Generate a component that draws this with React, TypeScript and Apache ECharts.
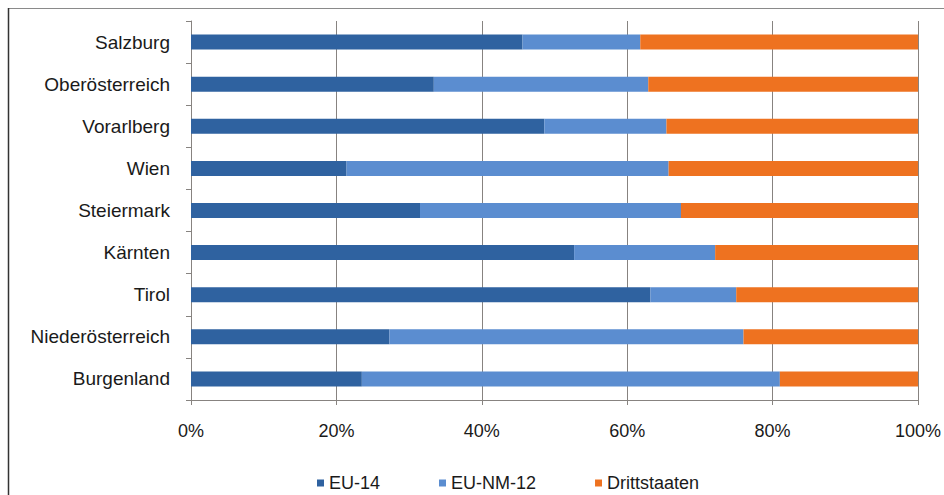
import React, { useEffect, useRef } from "react";
import * as echarts from "echarts";

const categories = [
  "Salzburg",
  "Oberösterreich",
  "Vorarlberg",
  "Wien",
  "Steiermark",
  "Kärnten",
  "Tirol",
  "Niederösterreich",
  "Burgenland",
];
const eu14 = [45.6, 33.4, 48.6, 21.4, 31.5, 52.7, 63.2, 27.3, 23.5];
const euNm12 = [16.2, 29.5, 16.8, 44.3, 35.9, 19.4, 11.8, 48.7, 57.5];
const drittstaaten = [38.2, 37.1, 34.6, 34.3, 32.6, 27.9, 25.0, 24.0, 19.0];
const xTicks = [0, 20, 40, 60, 80, 100];

const FONT = "'Liberation Sans', Arial, sans-serif";

export default function App() {
  const ref = useRef<HTMLDivElement>(null);
  useEffect(() => {
    if (!ref.current) return;
    const chart = echarts.init(ref.current, undefined, { renderer: "svg" });
    const cats = [...categories].reverse();
    const rev = (a: number[]) => [...a].reverse();
    const axisColor = "#878380";
    chart.setOption({
      animation: false,
      backgroundColor: "#ffffff",
      textStyle: { fontFamily: FONT },
      grid: { left: 191, right: 25, top: 21, bottom: 95 },
      legend: {
        left: 312,
        top: 469,
        itemWidth: 7,
        itemHeight: 7,
        itemGap: 59,
        icon: "rect",
        textStyle: { fontSize: 18, color: "#1a1a1a", fontFamily: FONT },
        data: ["EU-14", "EU-NM-12", "Drittstaaten"],
      },
      xAxis: {
        type: "value",
        min: xTicks[0],
        max: xTicks[xTicks.length - 1],
        interval: 20,
        axisLine: { show: true, lineStyle: { color: axisColor, width: 1 } },
        axisTick: { show: true, length: 5, lineStyle: { color: axisColor } },
        splitLine: { show: true, lineStyle: { color: axisColor, width: 1 } },
        axisLabel: {
          formatter: (v: number) => v + "%",
          fontSize: 18,
          color: "#1a1a1a",
          margin: 22,
          fontFamily: FONT,
        },
      },
      yAxis: {
        type: "category",
        data: cats,
        axisLine: { show: true, lineStyle: { color: axisColor, width: 1 } },
        axisTick: { show: true, length: 5, lineStyle: { color: axisColor } },
        axisLabel: {
          fontSize: 19,
          color: "#1a1a1a",
          margin: 21,
          fontFamily: FONT,
        },
      },
      series: [
        {
          name: "EU-14",
          type: "bar",
          stack: "total",
          barWidth: 15,
          itemStyle: { color: "#2f62a0" },
          data: rev(eu14),
        },
        {
          name: "EU-NM-12",
          type: "bar",
          stack: "total",
          barWidth: 15,
          itemStyle: { color: "#5b8dd0" },
          data: rev(euNm12),
        },
        {
          name: "Drittstaaten",
          type: "bar",
          stack: "total",
          barWidth: 15,
          itemStyle: { color: "#ee7220" },
          data: rev(drittstaaten),
        },
      ],
      graphic: [
        {
          type: "line",
          shape: { x1: 8, y1: 8.5, x2: 944, y2: 8.5 },
          style: { stroke: "#8a8a8a", lineWidth: 1 },
        },
        {
          type: "line",
          shape: { x1: 8.5, y1: 8, x2: 8.5, y2: 495 },
          style: { stroke: "#333333", lineWidth: 1.5 },
        },
      ],
    });
    return () => chart.dispose();
  }, []);
  return (
    <div
      ref={ref}
      style={{ width: 944, height: 495, position: "absolute", left: 0, top: 0 }}
    />
  );
}
